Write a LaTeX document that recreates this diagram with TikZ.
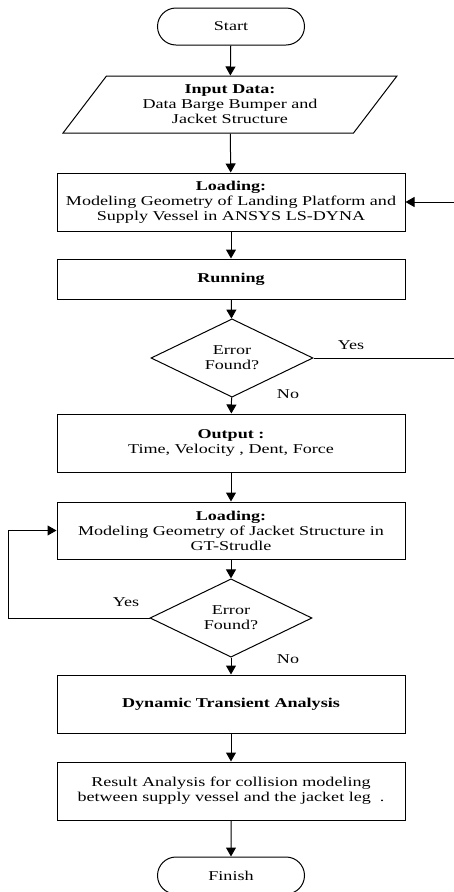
\documentclass[tikz,border=0pt]{standalone}
\usepackage{fontspec}
\setmainfont{Liberation Serif}[FakeStretch=1.34]
\usepackage{tikz}
\usetikzlibrary{shapes.geometric,shapes.misc,arrows.meta,calc,positioning}

\begin{document}
\begin{tikzpicture}[x=1pt, y=-1pt, line width=1pt, >={Triangle[length=9pt,width=10pt]}]
	\useasboundingbox (0,0) rectangle (454,892);
	\tikzstyle{every node} = [font=\fontsize{13.5}{15}\selectfont, align=center, inner sep=0pt]
	\tikzstyle{term} = [draw, rounded rectangle, minimum width=147pt, minimum height=37pt]
	\tikzstyle{io} = [draw, trapezium, trapezium left angle=51.7, trapezium right angle=128.3, trapezium stretches, minimum width=334pt, minimum height=57pt]
	\tikzstyle{proc} = [draw, rectangle, minimum width=348pt, minimum height=58pt]
	\tikzstyle{dec} = [draw, diamond, minimum width=162pt, minimum height=73pt]
\node[term] (0) at (231, 26.5) {Start};
\node[io] (1) at (230, 104.5) {\textbf{Input Data:}\\Data Barge Bumper and\\Jacket Structure};
\node[proc] (2) at (231, 202) {\textbf{Loading:}\\Modeling Geometry of Landing Platform and\\Supply Vessel in ANSYS LS-DYNA};
\node[proc, minimum height=40pt] (3) at (231, 279) {\textbf{Running}};
\node[dec] (4) at (232, 358) {Error\\Found?};
\node[proc] (5) at (231, 443) {\textbf{Output :}\\Time, Velocity , Dent, Force};
\node[proc, minimum height=57pt] (6) at (231, 530.5) {\textbf{Loading:}\\Modeling Geometry of Jacket Structure in\\GT-Strudle};
\node[dec] (7) at (231, 618) {Error\\Found?};
\node[proc] (8) at (231, 704) {\textbf{Dynamic Transient Analysis}};
\node[proc] (9) at (231, 791) {Result Analysis for collision modeling\\between supply vessel and the jacket leg\ \ .};
\node[term] (10) at (231, 875.5) {Finish};
	\node[draw = none]  (no1) at (288, 394)  {No};
	\node[draw = none]  (yes1) at (351, 345)  {Yes};
	\node[draw = none]  (yes2) at (126, 602)  {Yes};
	\node[draw = none]  (no2) at (288, 659)  {No};
	\coordinate (r1) at (458, 358);
	\coordinate (r2) at (458, 202);
	\coordinate (l1) at (8, 618);
	\coordinate (l2) at (8, 530.5);

	\path[draw, ->] (0) -- (1);
	\path[draw, ->] (1) -- (2);
	\path[draw, ->] (2) -- (3);
	\path[draw, ->] (3) -- (4);
	\path[draw, ->] (4) -- (5);
	\path[draw, ->] (5) -- (6);
	\path[draw, ->] (6) -- (7);
	\path[draw, ->] (7) -- (8);
	\path[draw, ->] (8) -- (9);
	\path[draw, ->] (9) -- (10);
	\path[draw, ->] (4.east) -- (r1) -- (r2) -- (2.east);
	\path[draw, ->] (7.west) -- (l1) -- (l2) -- (6.west);
\end{tikzpicture}
\end{document}
